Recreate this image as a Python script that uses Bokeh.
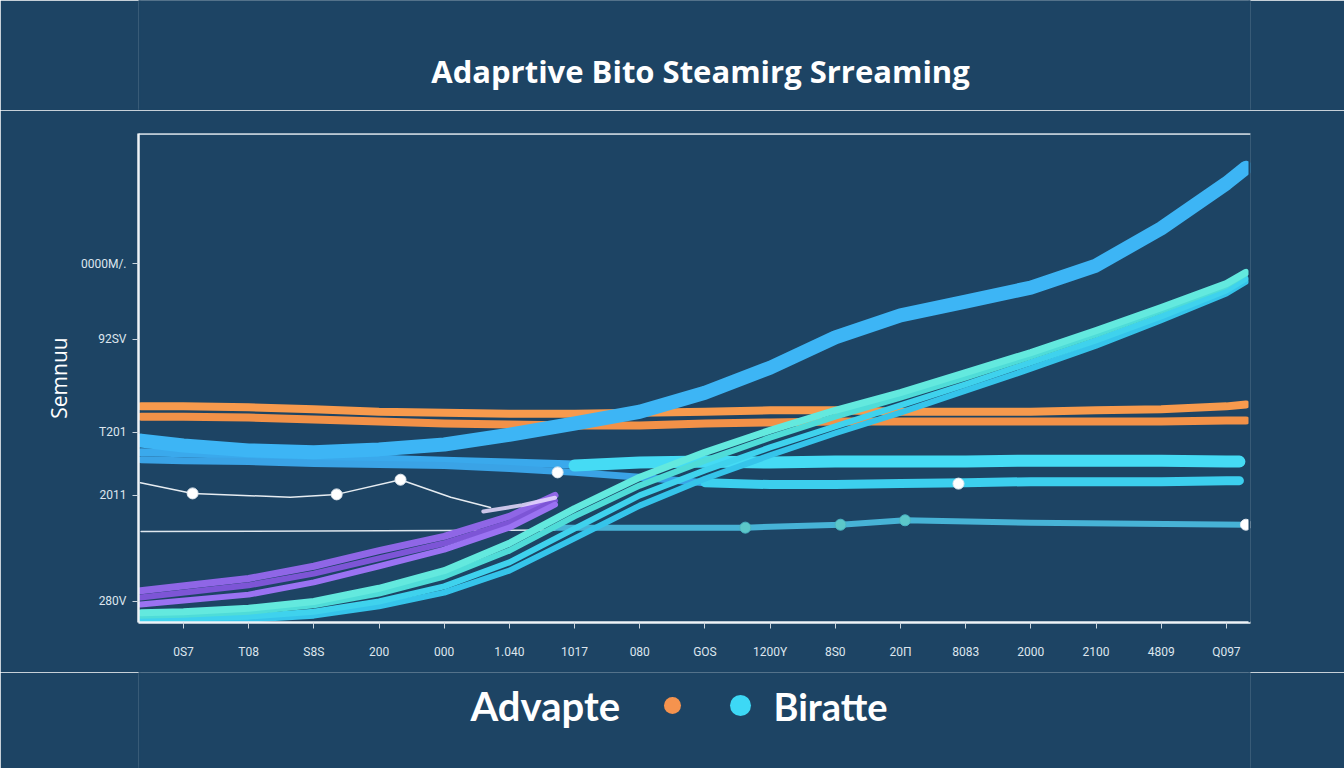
from bokeh.plotting import figure
from bokeh.models import FixedTicker, Span, Range1d, Label
from bokeh.layouts import column
from bokeh.embed import file_html
from bokeh.resources import INLINE

# ---------------- data ----------------
title_text = "Adaprtive Bito Steamirg Srreaming"
y_title = "Semnuu"
legend_labels = ["Advapte", "Biratte"]
legend_colors = ["#f5934e", "#3dd8f5"]

x_tick_pos = list(range(17))
x_labels = ["0S7", "T08", "S8S", "200", "000", "1.040", "1017", "080", "GOS",
            "1200Y", "8S0", "20\u03a0", "8083", "2000", "2100", "4809", "Q097"]
y_tick_pos = [4.3, 26.0, 38.9, 57.9, 73.4]
y_labels = ["280V", "2011", "T201", "92SV", "0000M/."]

X = [-0.65, 0, 1, 2, 3, 4, 5, 6, 7, 8, 9, 10, 11, 12, 13, 14, 15, 16, 16.3]

big_blue = [37.2, 36.2, 35.2, 34.8, 35.4, 36.4, 38.4, 40.7, 43.1, 47.0, 52.1,
            58.3, 62.8, 65.6, 68.5, 73.0, 80.6, 89.8, 93.0]
teal_a = [2.0, 2.2, 2.9, 4.3, 7.0, 10.6, 16.2, 23.3, 29.7, 34.8, 39.3, 43.4,
          47.0, 51.1, 55.2, 59.7, 64.4, 69.3, 71.6]
teal_b = [1.4, 1.6, 2.2, 3.5, 5.9, 9.4, 14.7, 21.7, 28.0, 33.1, 37.8, 42.1,
          46.0, 50.1, 54.4, 58.9, 63.8, 68.9, 71.4]
cyan_c = [0.6, 0.8, 1.2, 2.2, 4.3, 7.4, 12.3, 19.2, 26.0, 31.1, 35.8, 40.1,
          44.4, 48.7, 53.2, 57.7, 62.6, 67.9, 70.3]
cyan_d = [0.2, 0.4, 0.6, 1.4, 3.3, 6.1, 10.6, 17.2, 23.9, 29.4, 34.2, 38.7,
          42.9, 47.4, 51.9, 56.6, 61.8, 67.3, 69.7]
orange_up = [44.2, 44.2, 44.0, 43.6, 43.1, 42.9, 42.7, 42.7, 42.9, 43.1, 43.4,
             43.4, 43.1, 43.1, 43.1, 43.4, 43.6, 44.2, 44.6]
orange_lo = [42.1, 42.1, 41.9, 41.5, 41.1, 40.7, 40.5, 40.3, 40.3, 40.7, 40.9,
             41.1, 41.1, 41.1, 41.1, 41.1, 41.1, 41.3, 41.3]

blue_left_x = [-0.65, 0, 1, 2, 3, 4, 5, 6, 7]
blue2 = [34.8, 34.6, 34.2, 33.7, 33.5, 33.1, 32.7, 32.3, 32.5]
blue3_x = [-0.65, 0, 1, 2, 3, 4, 5, 6, 7, 8]
blue3 = [33.3, 33.1, 32.9, 32.5, 32.3, 32.1, 31.5, 30.7, 29.7, 28.6]

cyan_r1_x = [6, 7, 8, 9, 10, 11, 12, 13, 14, 15, 16, 16.2]
cyan_r1 = [32.1, 32.7, 32.9, 32.7, 32.9, 32.9, 32.9, 33.1, 33.1, 33.1, 32.9, 32.9]
cyan_r2_x = [8, 9, 10, 11, 12, 13, 14, 15, 16, 16.2]
cyan_r2 = [28.6, 28.2, 28.2, 28.4, 28.6, 28.8, 28.8, 28.8, 29.0, 29.0]

low_teal_x = [5.7, 8.62, 10.08, 11.07, 13, 16.3]
low_teal = [19.4, 19.4, 20.0, 20.9, 20.4, 20.0]
base_white_x = [-0.65, 5.7]
base_white = [18.6, 18.9]

white_path_x = [-0.66, 0.14, 1.64, 2.35, 3.33, 4.1, 4.71]
white_path = [28.6, 26.4, 25.6, 26.2, 29.2, 25.6, 23.5]

purple_x = [-0.66, 1, 2, 3, 4, 5, 5.7]
purple_1 = [6.5, 9.0, 11.5, 14.7, 17.6, 21.7, 26.0]
purple_2 = [5.1, 7.6, 10.0, 13.1, 16.2, 20.4, 24.9]
purple_3 = [3.7, 5.7, 8.2, 11.5, 14.9, 19.4, 24.1]
purple_glow_x = [4.6, 5.2, 5.7]
purple_glow = [22.7, 24.0, 25.5]

white_dot_x = [0.14, 2.35, 3.33, 5.74, 11.89, 16.3]
white_dot_y = [26.4, 26.2, 29.2, 30.7, 28.4, 20.0]
teal_dot_x = [8.62, 10.08, 11.07]
teal_dot_y = [19.4, 20.0, 20.9]

# ---------------- styling ----------------
BG = "#1d4464"
TXT = "#dde6ee"
W = 1344
LEFT, RIGHT = 138, 94


def cover_edges(f, x0, x1, y0, y1):
    # paint over the thin seams at the frame edges
    for loc in (x0, x1):
        f.add_layout(Span(location=loc, dimension="height", line_color=BG,
                          line_width=4))
    for loc in (y0, y1):
        f.add_layout(Span(location=loc, dimension="width", line_color=BG,
                          line_width=4))


def blank_fig(h):
    f = figure(width=W, height=h, x_range=(LEFT, W - RIGHT), y_range=(0, h),
               toolbar_location=None, output_backend="svg",
               x_axis_type=None, y_axis_type=None,
               min_border_left=LEFT, min_border_right=RIGHT,
               min_border_top=0, min_border_bottom=0,
               background_fill_color=BG, border_fill_color=BG,
               outline_line_color=None)
    f.grid.visible = False
    cover_edges(f, LEFT, W - RIGHT, 0, h)
    return f


# ---- title strip (data units = page pixels) ----
pt = blank_fig(110)
pt.add_layout(Label(x=700, y=40, text=title_text, text_align="center",
                    text_baseline="middle", text_color="white",
                    text_font="Open Sans", text_font_style="bold",
                    text_font_size="31px"))

# ---- main plot ----
p = figure(width=W, height=562, x_range=Range1d(-0.69, 16.37),
           y_range=Range1d(0, 100), toolbar_location=None, output_backend="svg",
           min_border_left=LEFT, min_border_right=RIGHT, min_border_top=23,
           min_border_bottom=50, background_fill_color=BG,
           border_fill_color=BG, outline_line_color=None)
p.grid.visible = False
p.add_layout(Span(location=16.37, dimension="height", line_color=BG,
                  line_width=4))

p.xaxis.ticker = FixedTicker(ticks=x_tick_pos)
p.xaxis.major_label_overrides = {i: s for i, s in zip(x_tick_pos, x_labels)}
p.yaxis.ticker = FixedTicker(ticks=y_tick_pos)
p.yaxis.major_label_overrides = {v: s for v, s in zip(y_tick_pos, y_labels)}
p.yaxis.axis_label = y_title
for ax in (p.xaxis, p.yaxis):
    ax.axis_line_color = "#eef3f7"
    ax.axis_line_width = 2.5
    ax.major_tick_line_color = "#c9d4de"
    ax.major_tick_out = 6
    ax.major_tick_in = 0
    ax.minor_tick_line_color = None
    ax.major_label_text_color = TXT
    ax.major_label_text_font = "Roboto"
    ax.major_label_text_font_size = "12px"
p.xaxis.major_label_standoff = 16
p.yaxis.major_label_standoff = 6
p.yaxis.axis_label_text_color = "white"
p.yaxis.axis_label_text_font = "Open Sans"
p.yaxis.axis_label_text_font_style = "normal"
p.yaxis.axis_label_text_font_size = "21px"
p.yaxis.axis_label_standoff = 5

p.add_layout(Span(location=100, dimension="width", line_color="#eef3f7",
                  line_width=2.5))

kw = dict(line_cap="round", line_join="round")

# base thin white line + low teal line
p.line(base_white_x, base_white, line_color="#dfe7ee", line_width=1.5, **kw)
p.line(low_teal_x, low_teal, line_color="#47b3d6", line_width=6, **kw)

# purple bundle
p.line(purple_x, purple_1, line_color="#8f66e6", line_width=7, **kw)
p.line(purple_x, purple_2, line_color="#7d55d6", line_width=6, **kw)
p.line(purple_x, purple_3, line_color="#9a72f2", line_width=6, **kw)
p.line(purple_glow_x, purple_glow, line_color="#eadcff", line_width=4,
       line_alpha=0.85, **kw)

# white path
p.line(white_path_x, white_path, line_color="#e6ecf1", line_width=1.5, **kw)

# blue left lines
p.line(blue_left_x, blue2, line_color="#3aa9ec", line_width=8, **kw)
p.line(blue3_x, blue3, line_color="#3aa3e6", line_width=7, **kw)

# cyan right lines
p.line(cyan_r2_x, cyan_r2, line_color="#3ccfee", line_width=9, **kw)
p.line(cyan_r1_x, cyan_r1, line_color="#45dbf4", line_width=12, **kw)

# orange lines
p.line(X, orange_lo, line_color="#f29148", line_width=8, **kw)
p.line(X, orange_up, line_color="#f79a4d", line_width=8, **kw)

# big blue
p.line(X, big_blue, line_color="#3db5f5", line_width=14, **kw)

# teal bundle
p.line(X, cyan_d, line_color="#35c4ea", line_width=6, **kw)
p.line(X, cyan_c, line_color="#3fd2ed", line_width=6, **kw)
p.line(X, teal_b, line_color="#4fdcd8", line_width=6, **kw)
p.line(X, teal_a, line_color="#63e9de", line_width=7, **kw)

# markers
p.scatter(teal_dot_x, teal_dot_y, size=11, fill_color="#5cc7c9",
          line_color="#4ab5c4")
p.scatter(white_dot_x, white_dot_y, size=11, fill_color="white",
          line_color="#dfe7ee")

# ---- legend strip (data units = page pixels) ----
pl = blank_fig(96)
pl.add_layout(Label(x=470, y=63, text=legend_labels[0], text_align="left",
                    text_baseline="middle", text_color="white",
                    text_font="Lato", text_font_style="bold",
                    text_font_size="40px"))
pl.add_layout(Label(x=773, y=63, text=legend_labels[1], text_align="left",
                    text_baseline="middle", text_color="white",
                    text_font="Lato", text_font_style="bold",
                    text_font_size="38px"))
pl.scatter([672, 740], [63, 63], size=[17, 21], fill_color=legend_colors,
           line_color=None)

layout = column(pt, p, pl, spacing=0)
open("out.html", "w").write(file_html(layout, INLINE))
